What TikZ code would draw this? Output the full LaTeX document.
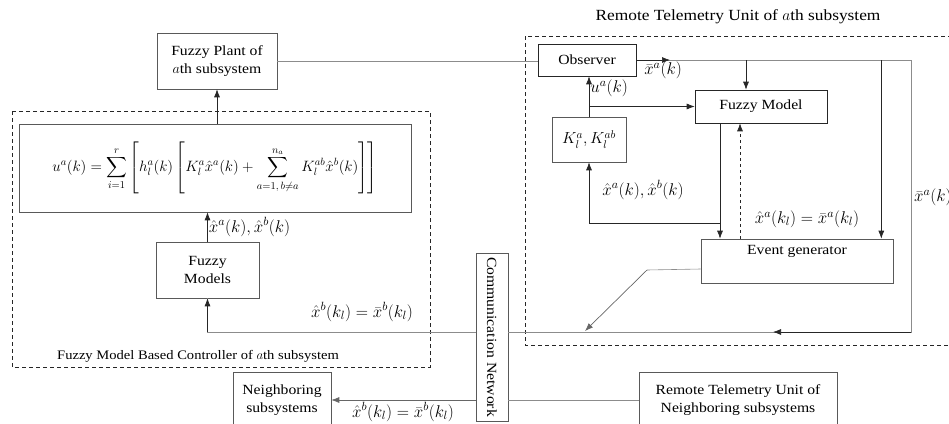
\RequirePackage{fix-cm}
\documentclass[tikz,border=0pt]{standalone}
\usepackage{amsmath}
\usepackage{fontspec}
\setmainfont{Liberation Serif}[FakeStretch=1.12]
\usetikzlibrary{arrows.meta}
\tikzset{
  box/.style={draw=black!65, line width=0.6pt, minimum width=#1},
  dbox/.style={draw=black!85, dashed, dash pattern=on 4pt off 3pt, line width=0.8pt},
  line/.style={draw=black!45, line width=0.6pt},
  arr/.style={draw=black!85, line width=0.7pt, -{Latex[length=8pt,width=6pt]}},
  lbl/.style={inner sep=1pt, font=\fontsize{17}{20}\selectfont}
}
\begin{document}
\begin{tikzpicture}[x=1pt,y=-1pt,font=\fontsize{14}{18}\selectfont]
\useasboundingbox (0,0) rectangle (949,423);
% dashed frames
\draw[dbox] (12,111) rectangle (430,367);
\draw[dbox] (525,36) rectangle (965,345);
\node[font=\fontsize{13}{16}\selectfont] at (198,356) {Fuzzy Model Based Controller of $a$th subsystem};
\node[font=\fontsize{15.5}{18}\selectfont] at (738,17) {Remote Telemetry Unit of $a$th subsystem};
% controller side
\node[box=120, minimum height=56, align=center] (plant) at (217,61) {Fuzzy Plant of\\$a$th subsystem};
\node[box=392, minimum height=88, font=\fontsize{15}{18}\selectfont] (law) at (215,168)
  {$\displaystyle u^a(k)=\sum_{i=1}^{r}\left[h_l^a(k)\left[K_l^a\hat{x}^a(k)+\sum_{a=1,\,b\neq a}^{n_a}K_l^{ab}\hat{x}^b(k)\right]\right]$};
\node[box=103, minimum height=56, align=center] (fmodels) at (207.5,270) {Fuzzy\\Models};
\node[box=32, minimum height=168, label={[rotate=-90]center:Communication Network}] (comm) at (492,337) {};
\node[box=98, minimum height=56, align=center] (nbr) at (282,400) {Neighboring\\subsystems};
\node[box=198, minimum height=56, align=center] (rtun) at (738,400) {Remote Telemetry Unit of\\Neighboring subsystems};
% telemetry unit
\node[box=98, minimum height=32, draw=black!85] (obs) at (587,60) {Observer};
\node[box=132, minimum height=33, draw=black!85] (fmodel) at (761,106.5) {Fuzzy Model};
\node[box=74, minimum height=45, font=\fontsize{16}{18}\selectfont] (gains) at (589,139.5) {$K_l^a,K_l^{ab}$};
\node[box=192, minimum height=44, label={[anchor=north,yshift=-3pt]north:Event generator}] (event) at (797,261) {};
\coordinate (tr) at (911,60);
\coordinate (br) at (911,332);
\coordinate (fb) at (720,223);
\coordinate (bend) at (647,270);
\coordinate (ev) at (585,331);
% connectors
\draw[arr] (law.north -| plant.south) -- (plant.south);
\draw[arr] (fmodels) -- (fmodels |- law.south) node[lbl, midway, right] {$\hat{x}^a(k),\hat{x}^b(k)$};
\draw[line] ([yshift=5pt]comm.west) -| (fmodels.south);
\draw[arr] (fmodels.south |- 0,332) -- (fmodels.south);
\node[lbl] at (362,312) {$\hat{x}^b(k_l)=\bar{x}^b(k_l)$};
\draw[line] (plant.east) -- (plant.east -| obs.west);
\draw[line] (obs.east) -- (tr) -- (br) -- ([yshift=5pt]comm.east);
\draw[arr] (obs.east) -- (670,60);
\node[lbl] at (663,70) {$\bar{x}^a(k)$};
\draw[arr] (br) -- (773,332);
\node[lbl, anchor=west] at (913,197) {$\bar{x}^a(k)$};
\draw[arr] ([xshift=-15pt]fmodel.north |- obs.east) -- ([xshift=-15pt]fmodel.north);
\draw[arr] ([xshift=-12pt]event.north east |- obs.east) -- ([xshift=-12pt]event.north east);
\draw[arr] (gains.north) -- (gains.north |- obs.south) node[lbl, pos=0.7, right] {$u^a(k)$};
\draw[arr] (gains.north |- fmodel.west) -- (fmodel.west);
\draw[arr] (fb |- fmodel.south) -- (fb |- event.north);
\draw[arr] (fb) -| (gains.south);
\node[lbl] at (643,190) {$\hat{x}^a(k),\hat{x}^b(k)$};
\draw[arr, dashed] ([xshift=20pt]fb |- event.north) -- ([xshift=20pt]fb |- fmodel.south);
\node[lbl] at (807,219) {$\hat{x}^a(k_l)=\bar{x}^a(k_l)$};
\draw[line] ([yshift=-8pt]event.west) -- (bend);
\draw[arr, draw=black!60] (bend) -- (ev);
\draw[arr, draw=black!60] (comm.west |- nbr.east) -- (nbr.east);
\draw[line] (comm.east |- rtun.west) -- (rtun.west);
\node[lbl] at (403,412) {$\hat{x}^b(k_l)=\bar{x}^b(k_l)$};
\end{tikzpicture}
\end{document}
